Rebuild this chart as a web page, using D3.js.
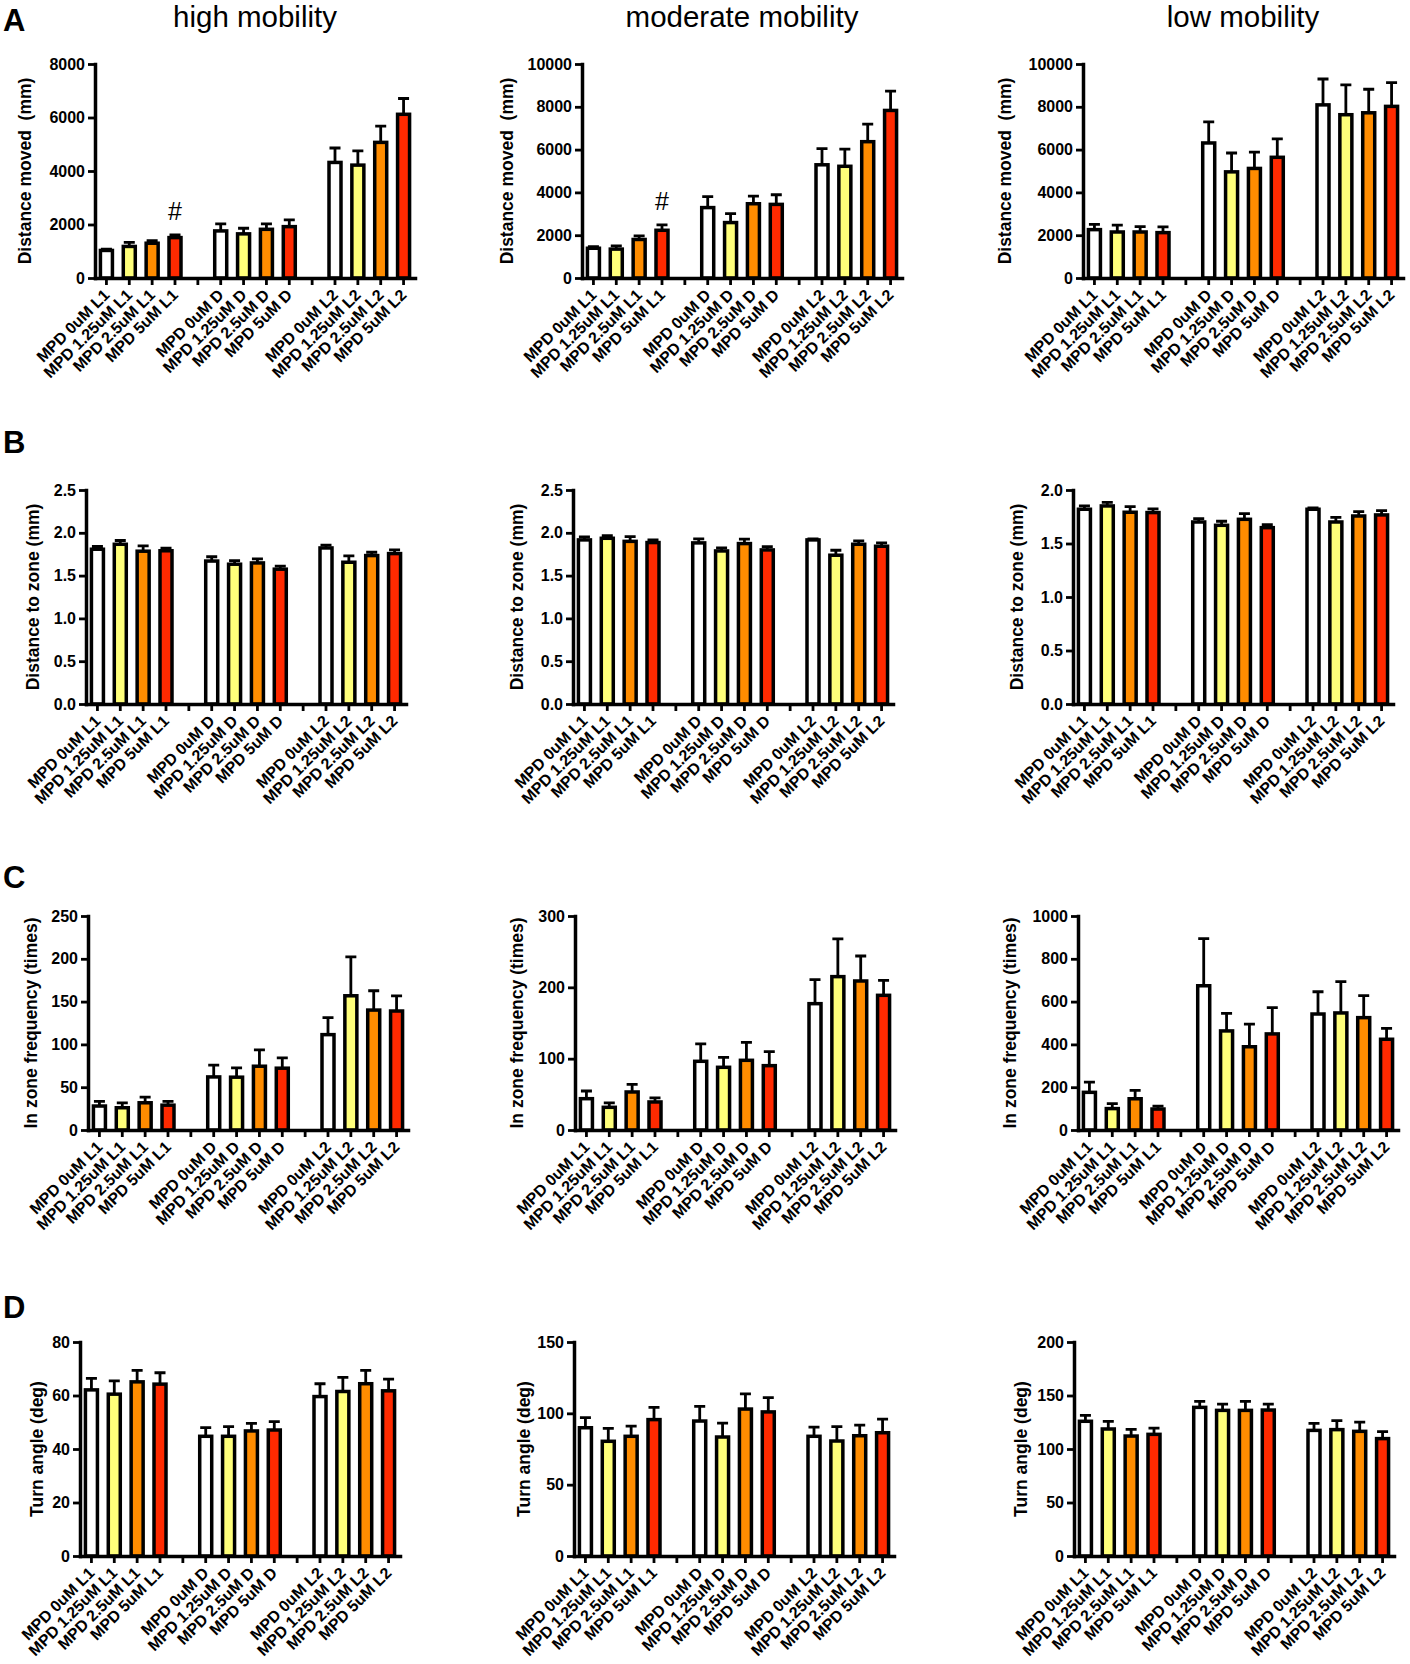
<!DOCTYPE html>
<html lang="en">
<head>
<meta charset="UTF-8">
<title>MPD mobility bar charts</title>
<script src="https://cdn.jsdelivr.net/npm/d3@7"></script>
<style>
    body { margin: 0; background: #fff; }
    svg { font-family: "Liberation Sans", Arial, sans-serif; }
    .axis path, .axis line { stroke: #000; fill: none; }
    .axis path { stroke-width: 3.5; stroke-linecap: square; }
    .axis line { stroke-width: 2.8; }
    .axis text { font-size: 16px; font-weight: bold; fill: #000; }
    .ytitle { font-size: 17.5px; font-weight: bold; white-space: pre; }
    .coltitle { font-size: 29.5px; }
    .letter { font-size: 31px; font-weight: bold; }
    .bar { stroke: #000; stroke-width: 3.5; }
    .err { stroke: #000; stroke-width: 2.8; fill: none; }
</style>
</head>
<body>
<svg id="vis" width="1410" height="1664"></svg>
<script>
    const doses = ["0uM", "1.25uM", "2.5uM", "5uM"];
    const phases = ["L1", "D", "L2"];
    const mobility = ["high mobility", "moderate mobility", "low mobility"];
    const barColors = ["#ffffff", "#ffff7a", "#ff8c00", "#ff2a00"];

    /* A : distance moved (mm) */
    const distHigh = [1030, 1180, 1300, 1510, 1760, 1650, 1820, 1920, 4320, 4220, 5070, 6120];
    const distHighSem = [50, 150, 100, 100, 260, 210, 200, 250, 540, 530, 610, 590];
    const distMod = [1390, 1350, 1800, 2230, 3290, 2590, 3470, 3440, 5290, 5220, 6370, 7830];
    const distModSem = [80, 150, 170, 250, 510, 420, 360, 450, 760, 800, 820, 900];
    const distLow = [2260, 2150, 2150, 2120, 6310, 4960, 5120, 5640, 8090, 7630, 7720, 8020];
    const distLowSem = [250, 320, 250, 270, 990, 880, 760, 860, 1210, 1390, 1100, 1110];

    /* B : distance to zone (mm) */
    const zoneHigh = [1.808, 1.866, 1.785, 1.79, 1.67, 1.633, 1.648, 1.575, 1.823, 1.656, 1.734, 1.757];
    const zoneHighSem = [0.032, 0.044, 0.062, 0.03, 0.05, 0.043, 0.047, 0.035, 0.032, 0.074, 0.039, 0.043];
    const zoneMod = [1.917, 1.936, 1.90, 1.886, 1.882, 1.788, 1.874, 1.80, 1.917, 1.738, 1.866, 1.843];
    const zoneModSem = [0.035, 0.031, 0.056, 0.031, 0.046, 0.035, 0.051, 0.039, 0.011, 0.058, 0.039, 0.039];
    const zoneLow = [1.82, 1.851, 1.792, 1.789, 1.701, 1.67, 1.726, 1.648, 1.82, 1.701, 1.757, 1.767];
    const zoneLowSem = [0.031, 0.034, 0.053, 0.034, 0.032, 0.038, 0.053, 0.029, 0.012, 0.044, 0.041, 0.04];

    /* C : in zone frequency (times) */
    const freqHigh = [28, 26, 31.8, 29, 62, 61.7, 74.5, 72.2, 111.4, 156.8, 140.1, 139];
    const freqHighSem = [5.4, 5.8, 6.6, 4.4, 13.7, 10.9, 19.1, 12, 19.8, 45.4, 22.6, 17.8];
    const freqMod = [43.9, 31.8, 53.3, 39.3, 96.3, 87.9, 97.7, 90.2, 177.1, 215, 208.9, 188.8];
    const freqModSem = [10.8, 6.1, 10.7, 5.6, 24.3, 14, 25.2, 19.6, 33.6, 52.8, 35, 21];
    const freqLow = [176, 100, 146, 98, 674, 463, 389, 449, 542, 547, 525, 424];
    const freqLowSem = [48, 23, 39, 14, 220, 82, 106, 123, 104, 146, 103, 51];

    /* D : turn angle (deg) */
    const turnHigh = [62.1, 60.5, 65.1, 64.25, 44.75, 44.75, 46.75, 47.1, 59.6, 61.5, 64.4, 61.75];
    const turnHighSem = [4.3, 5, 4.3, 4.25, 3.25, 3.65, 2.85, 3.15, 4.8, 5.25, 5, 4.35];
    const turnMod = [89.9, 80.4, 83.9, 95.6, 94.6, 83.4, 103, 101, 83.9, 80.6, 84.3, 86.4];
    const turnModSem = [7.1, 9.1, 7.2, 8.6, 10.3, 9.8, 10.6, 10, 6.5, 10.1, 7.5, 9.6];
    const turnLow = [125.9, 118.7, 112.1, 113.7, 138.9, 136.1, 136.1, 136.4, 117.4, 118.1, 116.5, 109.7];
    const turnLowSem = [5.6, 7.2, 6.3, 5.9, 5.7, 5.9, 8.5, 5.6, 6.6, 8.4, 8.7, 6.5];

    /* y tick labels */
    const ticksDistHigh = [0, 2000, 4000, 6000, 8000];
    const ticksDist = [0, 2000, 4000, 6000, 8000, 10000];
    const ticksZone25 = [0, 0.5, 1.0, 1.5, 2.0, 2.5];
    const ticksZone20 = [0, 0.5, 1.0, 1.5, 2.0];
    const ticksFreqHigh = [0, 50, 100, 150, 200, 250];
    const ticksFreqMod = [0, 100, 200, 300];
    const ticksFreqLow = [0, 200, 400, 600, 800, 1000];
    const ticksTurnHigh = [0, 20, 40, 60, 80];
    const ticksTurnMod = [0, 50, 100, 150];
    const ticksTurnLow = [0, 50, 100, 150, 200];

    const rowLetters = ["A", "B", "C", "D"];
    const yTitles = ["Distance moved  (mm)", "Distance to zone (mm)", "In zone frequency (times)", "Turn angle (deg)"];
    // significance marks: [row, column, bar index]
    const hashMarks = [[0, 0, 3], [0, 1, 3]];

    const panels = [
        [[distHigh, distHighSem, ticksDistHigh], [distMod, distModSem, ticksDist], [distLow, distLowSem, ticksDist]],
        [[zoneHigh, zoneHighSem, ticksZone25], [zoneMod, zoneModSem, ticksZone25], [zoneLow, zoneLowSem, ticksZone20]],
        [[freqHigh, freqHighSem, ticksFreqHigh], [freqMod, freqModSem, ticksFreqMod], [freqLow, freqLowSem, ticksFreqLow]],
        [[turnHigh, turnHighSem, ticksTurnHigh], [turnMod, turnModSem, ticksTurnMod], [turnLow, turnLowSem, ticksTurnLow]]
    ];
    const rowFormats = [d3.format("d"), d3.format(".1f"), d3.format("d"), d3.format("d")];

    /* layout */
    const rowTop = [64, 490, 916, 1342];
    const plotH = 214, plotW = 320;
    const axisX = [[95, 582, 1083], [86, 573, 1073], [88, 575, 1078], [80, 574, 1074]];
    const titleX = [[25, 507, 1005], [33, 517, 1017], [31, 517, 1010], [37, 524, 1021]];
    const letterY = [31, 453, 888, 1318];

    // 14 slots : 4 doses per phase, with an empty slot between phases
    let slots = [];
    let barSlot = [];
    phases.forEach(function(p, i) {
        doses.forEach(function(d) {
            barSlot.push(slots.length);
            slots.push("MPD " + d + " " + p);
        });
        if (i < phases.length - 1) slots.push("gap" + i);
    });

    let svg = d3.select("#vis");

    mobility.forEach(function(m, c) {
        svg.append("text")
            .attr("class", "coltitle")
            .attr("x", axisX[0][c] + plotW / 2)
            .attr("y", 27)
            .attr("text-anchor", "middle")
            .text(m);
    });

    rowLetters.forEach(function(l, r) {
        svg.append("text").attr("class", "letter").attr("x", 3).attr("y", letterY[r]).text(l);
    });

    panels.forEach(function(row, r) {
        row.forEach(function(p, c) {
            let means = p[0], sems = p[1], ticks = p[2];
            let x0 = axisX[r][c];
            let top = rowTop[r], zero = top + plotH;

            let x = d3.scaleBand().domain(slots).range([x0, x0 + plotW]).padding(0);
            let y = d3.scaleLinear().domain([0, d3.max(ticks)]).range([zero, top]);
            let cx = (i) => x(slots[barSlot[i]]) + x.bandwidth() / 2;

            let g = svg.append("g");

            g.selectAll(".bar")
                .data(means)
                .join("rect")
                .attr("class", "bar")
                .attr("x", (d, i) => cx(i) - 6)
                .attr("y", (d) => y(d))
                .attr("width", 12)
                .attr("height", (d) => zero - y(d))
                .attr("fill", (d, i) => barColors[i % 4]);

            g.selectAll(".err")
                .data(means)
                .join("path")
                .attr("class", "err")
                .attr("d", function(d, i) {
                    let yt = y(d + sems[i]);
                    return "M" + cx(i) + "," + y(d) + "V" + yt + "M" + (cx(i) - 5.5) + "," + yt + "H" + (cx(i) + 5.5);
                });

            g.append("g")
                .attr("class", "axis")
                .attr("transform", "translate(" + x0 + ",0)")
                .call(d3.axisLeft(y).tickValues(ticks).tickFormat(rowFormats[r]).tickSizeInner(7).tickSizeOuter(0).tickPadding(3));

            let xa = g.append("g")
                .attr("class", "axis")
                .attr("transform", "translate(0," + zero + ")")
                .call(d3.axisBottom(x).tickSizeInner(7).tickSizeOuter(0)
                    .tickFormat((d) => d.startsWith("gap") ? "" : d));
            xa.selectAll("text")
                .attr("x", 0).attr("y", 0).attr("dy", null)
                .attr("text-anchor", "end")
                .attr("transform", "translate(4,18) rotate(-45)");

            svg.append("text")
                .attr("class", "ytitle")
                .attr("transform", "translate(" + titleX[r][c] + "," + (top + plotH / 2) + ") rotate(-90)")
                .attr("text-anchor", "middle")
                .attr("dy", "0.35em")
                .text(yTitles[r]);

            hashMarks.filter((h) => h[0] === r && h[1] === c).forEach(function(h) {
                let i = h[2];
                svg.append("text")
                    .attr("x", cx(i))
                    .attr("y", y(means[i] + sems[i]) - 15)
                    .attr("text-anchor", "middle")
                    .style("font-size", "25px")
                    .text("#");
            });
        });
    });
</script>
</body>
</html>
